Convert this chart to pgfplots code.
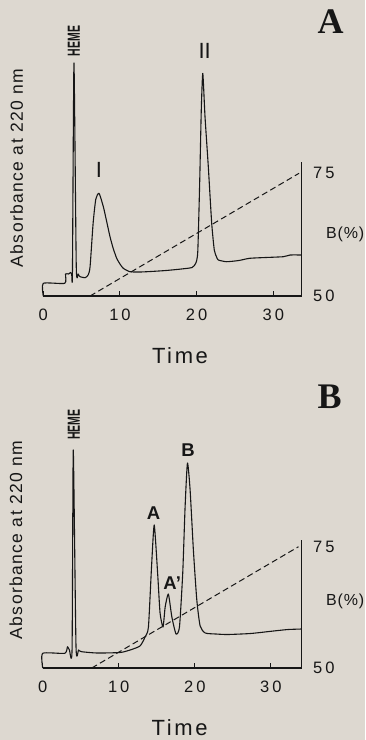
\documentclass[border=0pt]{standalone}
\usepackage{fontspec}
\setmainfont{Liberation Sans}
\newfontfamily\panelfont{Liberation Serif}
\usepackage{pgfplots}
\usepackage{pgfplotstable}
\pgfplotsset{compat=1.18}

\definecolor{paper}{RGB}{221,216,208}
\definecolor{ink}{RGB}{22,22,22}

% Chromatogram A: time (min) vs absorbance (arbitrary units)
\pgfplotstableread{
t a
0 0
0 12.7
2.8 12.7
2.9 22
3.3 22
3.55 23.5
3.7 22
3.8 23
4.0 233
4.3 29.3
4.55 22
4.8 19.3
5.45 18.3
5.85 21
6.1 29.3
6.5 73
6.85 97
7.27 102.7
7.83 89.3
8.25 75
8.7 59.3
9.1 48
9.57 37.7
10.0 32
10.43 27.7
11.3 24.3
12.6 24
14 24.5
16 25.5
18 27
19.4 28.5
19.9 33
20.15 45
20.4 115
20.6 185
20.8 222.7
21.09 179.3
21.52 129.3
21.96 73
22.3 46
22.6 39
22.83 36
23.9 34.3
25.5 35.5
26.9 37.7
29 38.5
31.3 39.3
32.2 41
33.7 41
}\chromA

% Chromatogram B
\pgfplotstableread{
t a
0 0
0 14.7
2.9 14.7
3.26 21.3
3.51 18
3.86 18.5
4.02 218
4.38 21.3
4.72 18
5.12 16.3
7.14 15
10.17 15.5
11.48 18
12.79 22
13.46 31
13.9 41
14.3 100
14.66 143
15.11 94.7
15.43 55
15.82 41
16.1 61
16.52 74
16.98 51
17.53 34
17.98 41
18.41 95
18.72 161
19.03 205
19.38 178
19.81 118
20.26 68
20.7 42
21.37 35
22.78 34
24.29 33.5
27.32 34.5
30.34 37
32.26 38.5
34.05 39
}\chromB

\tikzset{
  rlab/.style={anchor=west, text=ink, font=\fontsize{16.5}{19}\selectfont\addfontfeature{LetterSpace=18}},
  blab/.style={anchor=west, text=ink, font=\fontsize{16}{19}\selectfont\addfontfeature{LetterSpace=5}},
}

\pgfplotsset{
  chrom/.style={
    scale only axis, height=256pt,
    xmin=0, ymin=0, ymax=256,
    clip=false,
    axis x line=bottom, axis y line=left,
    x axis line style={-, line width=1.2pt, ink},
    y axis line style={draw=none},
    ytick=\empty,
    xtick={0,10,20,30},
    tick align=inside, major tick length=5pt,
    tick style={line width=1pt, ink},
    /pgf/number format/assume math mode=true,
    xticklabel style={font=\fontsize{16.5}{19}\selectfont\addfontfeature{LetterSpace=18}, text=ink, yshift=-9pt},
    xlabel={Time},
    xlabel style={font=\fontsize{22}{26}\selectfont\addfontfeature{LetterSpace=12}, text=ink, inner sep=0pt,
      at={(axis description cs:0.529,-0.265)}, anchor=base},
    ylabel={Absorbance at 220 nm},
    ylabel style={font=\fontsize{17.5}{21}\selectfont\addfontfeature{LetterSpace=8}, text=ink,
      at={(axis description cs:-0.1037,0.5)}, anchor=center},
  },
  % gradient axis: same box as the chromatogram, B(%) on the right
  grad/.style={
    scale only axis, height=256pt,
    xmin=0, ymin=50,
    clip=false,
    axis x line=bottom, axis y line=left,
    x axis line style={draw=none}, y axis line style={draw=none},
    xtick=\empty, ytick=\empty,
  },
  trace/.style={ink, line width=1.1pt, line join=round, smooth, tension=0.35},
  ramp/.style={ink, line width=1pt, dash pattern=on 6pt off 3.5pt},
  rline/.style={ink, line width=1.2pt},
}

\begin{document}
\begin{tikzpicture}
\fill[paper] (0pt,0pt) rectangle (365pt,-740pt);
\useasboundingbox (0pt,0pt) rectangle (365pt,-740pt);

% ---------- Panel A ----------
\begin{axis}[chrom, width=258.4pt, xmax=33.7, at={(43.3pt,-296pt)}, anchor=south west]
  \addplot[trace] table[x=t, y=a] {\chromA};
  \node[rotate=90, text=ink, font=\fontsize{17.5}{20}\selectfont\bfseries] at (axis cs:3.97,255) {\scalebox{0.6}[1]{HEME}};
  \node[text=ink, font=\fontsize{22}{26}\selectfont] at (axis cs:7.27,126) {I};
  \node[text=ink, font=\fontsize{22}{26}\selectfont] at (axis cs:21.05,244.7) {II};
\end{axis}
\begin{axis}[grad, width=258.4pt, xmax=33.7, ymax=102.16, at={(43.3pt,-296pt)}, anchor=south west]
  \addplot[ramp] coordinates {(6.1,50) (33.35,75)};
  \addplot[rline] coordinates {(33.7,50) (33.7,77.24)};
  \node[rlab] at (axis cs:33.7,50) [xshift=8pt] {50};
  \node[rlab] at (axis cs:33.7,75) [xshift=8pt] {75};
  \node[blab] at (axis cs:33.7,62.6) [xshift=21pt] {B(\%)};
\end{axis}
\node[anchor=base, text=ink, font=\fontsize{36}{40}\selectfont\panelfont\bfseries] at (330.5pt,-33.3pt) {A};

% ---------- Panel B ----------
\begin{axis}[chrom, width=259pt, xmax=34.05, at={(42.7pt,-668pt)}, anchor=south west]
  \addplot[trace] table[x=t, y=a] {\chromB};
  \node[rotate=90, text=ink, font=\fontsize{17.5}{20}\selectfont\bfseries] at (axis cs:4.09,243.5) {\scalebox{0.6}[1]{HEME}};
  \node[text=ink, font=\fontsize{18.5}{22}\selectfont\bfseries] at (axis cs:14.56,154.7) {A};
  \node[text=ink, font=\fontsize{18.5}{22}\selectfont\bfseries] at (axis cs:17.03,84.7) {A'};
  \node[text=ink, font=\fontsize{18.5}{22}\selectfont\bfseries] at (axis cs:19.1,218) {B};
\end{axis}
\begin{axis}[grad, width=259pt, xmax=34.05, ymax=102.76, at={(42.7pt,-668pt)}, anchor=south west]
  \addplot[ramp] coordinates {(6.45,50) (33.63,75)};
  \addplot[rline] coordinates {(34.05,50) (34.05,76.4)};
  \node[rlab] at (axis cs:34.05,50) [xshift=8pt] {50};
  \node[rlab] at (axis cs:34.05,75) [xshift=8pt] {75};
  \node[blab] at (axis cs:34.05,63.7) [xshift=21pt] {B(\%)};
\end{axis}
\node[anchor=base, text=ink, font=\fontsize{36}{40}\selectfont\panelfont\bfseries] at (329.7pt,-408.3pt) {B};
\end{tikzpicture}
\end{document}
